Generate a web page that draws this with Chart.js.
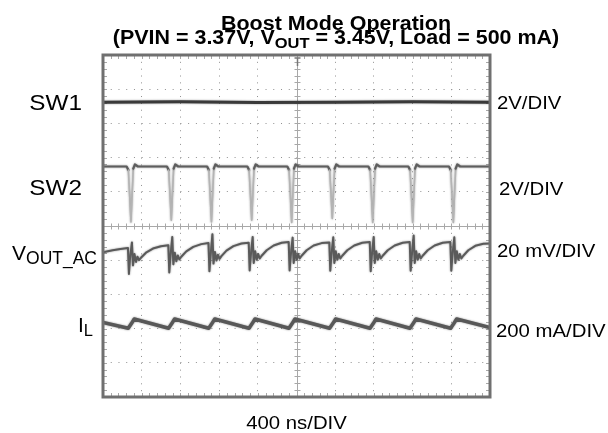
<!DOCTYPE html>
<html>
<head>
<meta charset="utf-8">
<script src="https://cdn.jsdelivr.net/npm/chart.js@4/dist/chart.umd.min.js"></script>
<style>
  html, body { margin: 0; padding: 0; background: #fff; }
  #wrap { position: relative; width: 608px; height: 433px; }
</style>
</head>
<body>
<div id="wrap"><canvas id="c" width="608" height="433"></canvas></div>
<script>
// ---- Data (time in ns, amplitude in screen divisions, 0 = centre line) ----
const timeDiv = 400;            // ns per division
const xDivisions = 10;
const yDivisions = 10;

const titleLine1 = 'Boost Mode Operation';
const titleLine2 = ['(PVIN = 3.37V, V', 'OUT', ' = 3.45V, Load = 500 mA)'];
const leftLabels = ['SW1', 'SW2', ['V', 'OUT_AC'], ['I', 'L']];
const rightLabels = ['2V/DIV', '2V/DIV', '20 mV/DIV', '200 mA/DIV'];
const timeLabel = '400 ns/DIV';

const sw1Points = [[0, 3.62], [800, 3.63], [1600, 3.61], [2400, 3.62], [3200, 3.63], [4000, 3.62]];

const sw2Points = [
  [0, 1.74],
  [244, 1.74], [262, 1.64], [289, 0.12], [313, 1.68], [330, 1.80], [360, 1.74],
  [661, 1.74], [679, 1.64], [706, 0.17], [730, 1.68], [747, 1.80], [777, 1.74],
  [1076, 1.74], [1094, 1.64], [1121, 0.12], [1145, 1.68], [1162, 1.80], [1192, 1.74],
  [1492, 1.74], [1510, 1.64], [1537, 0.17], [1561, 1.68], [1578, 1.80], [1608, 1.74],
  [1905, 1.74], [1923, 1.64], [1950, 0.10], [1974, 1.68], [1991, 1.80], [2021, 1.74],
  [2325, 1.74], [2343, 1.64], [2370, 0.22], [2394, 1.68], [2411, 1.80], [2441, 1.74],
  [2743, 1.74], [2761, 1.64], [2788, 0.10], [2812, 1.68], [2829, 1.80], [2859, 1.74],
  [3156, 1.74], [3174, 1.64], [3201, 0.10], [3225, 1.68], [3242, 1.80], [3272, 1.74],
  [3576, 1.74], [3594, 1.64], [3621, 0.10], [3645, 1.68], [3662, 1.80], [3692, 1.74],
  [4000, 1.74]
];

const voutPoints = [
  [0, -0.77], [100, -0.71], [180, -0.67],
  [258, -0.64], [268, -1.40], [279, -0.95], [299, -0.48], [310, -1.15], [325, -0.82], [341, -1.05], [356, -0.90], [372, -1.00], [392, -0.93], [444, -0.78], [516, -0.66], [599, -0.59],
  [675, -0.56], [685, -1.36], [696, -0.92], [716, -0.32], [727, -1.12], [742, -0.78], [758, -1.03], [773, -0.86], [789, -0.98], [809, -0.90], [861, -0.74], [933, -0.61], [1016, -0.53],
  [1090, -0.50], [1100, -1.32], [1111, -0.90], [1131, -0.24], [1142, -1.10], [1157, -0.76], [1173, -1.01], [1188, -0.84], [1204, -0.96], [1224, -0.88], [1276, -0.72], [1348, -0.59], [1431, -0.51],
  [1506, -0.49], [1516, -1.30], [1527, -0.88], [1547, -0.32], [1558, -1.08], [1573, -0.74], [1589, -0.99], [1604, -0.82], [1620, -0.95], [1640, -0.87], [1692, -0.71], [1764, -0.57], [1847, -0.49],
  [1919, -0.47], [1929, -1.30], [1940, -0.88], [1960, -0.34], [1971, -1.08], [1986, -0.74], [2002, -0.99], [2017, -0.82], [2033, -0.95], [2053, -0.87], [2105, -0.71], [2177, -0.57], [2260, -0.50],
  [2339, -0.48], [2349, -1.31], [2360, -0.88], [2380, -0.33], [2391, -1.08], [2406, -0.74], [2422, -0.99], [2437, -0.82], [2453, -0.95], [2473, -0.87], [2525, -0.71], [2597, -0.57], [2680, -0.49],
  [2757, -0.47], [2767, -1.32], [2778, -0.88], [2798, -0.32], [2809, -1.08], [2824, -0.74], [2840, -0.99], [2855, -0.82], [2871, -0.95], [2891, -0.87], [2943, -0.71], [3015, -0.57], [3098, -0.49],
  [3170, -0.47], [3180, -1.31], [3191, -0.88], [3211, -0.28], [3222, -1.08], [3237, -0.74], [3253, -0.99], [3268, -0.82], [3284, -0.95], [3304, -0.87], [3356, -0.71], [3428, -0.57], [3511, -0.49],
  [3590, -0.47], [3600, -1.31], [3611, -0.88], [3631, -0.33], [3642, -1.08], [3657, -0.74], [3673, -0.99], [3688, -0.82], [3704, -0.95], [3724, -0.87], [3776, -0.71], [3848, -0.58], [3931, -0.52],
  [4000, -0.51]
];

const ilPoints = [
  [0, -2.82],
  [261, -2.99], [292, -2.86], [323, -2.72],
  [678, -2.99], [709, -2.86], [740, -2.72],
  [1093, -2.99], [1124, -2.86], [1155, -2.72],
  [1509, -2.99], [1540, -2.86], [1571, -2.72],
  [1922, -2.99], [1953, -2.86], [1984, -2.72],
  [2342, -2.99], [2373, -2.86], [2404, -2.72],
  [2760, -2.99], [2791, -2.86], [2822, -2.72],
  [3173, -2.99], [3204, -2.86], [3235, -2.72],
  [3593, -2.99], [3624, -2.86], [3655, -2.72],
  [4000, -2.97]
];

// ---- Build chart ----
const toXY = pts => pts.map(p => ({ x: p[0], y: p[1] }));
const FONT = '"Liberation Sans", Arial, Helvetica, sans-serif';

function drawRuns(ctx, runs, x, y, align, sx) {
  let w = 0;
  runs.forEach(r => {
    ctx.font = (r.b ? 'bold ' : '') + r.s + 'px ' + FONT;
    r.w = ctx.measureText(r.t).width; w += r.w;
  });
  const start = align === 'center' ? x - w * sx / 2 : (align === 'right' ? x - w * sx : x);
  ctx.save();
  ctx.translate(start, y);
  ctx.scale(sx, 1);
  ctx.textAlign = 'left';
  ctx.textBaseline = 'alphabetic';
  ctx.fillStyle = '#000';
  let cx = 0;
  runs.forEach(r => {
    ctx.font = (r.b ? 'bold ' : '') + r.s + 'px ' + FONT;
    ctx.fillText(r.t, cx, r.dy || 0);
    cx += r.w;
  });
  ctx.restore();
}

const scopePlugin = {
  id: 'scope',
  beforeDatasetsDraw(chart) {
    const { ctx, chartArea: a, scales: { x, y } } = chart;
    ctx.save();
    ctx.strokeStyle = '#a8a8a8';
    ctx.lineWidth = 1;
    const cx = Math.round(x.getPixelForValue(2000)) + 0.5;
    const cy = Math.round(y.getPixelForValue(0)) + 0.5;
    ctx.beginPath();
    ctx.moveTo(cx, a.top); ctx.lineTo(cx, a.bottom);
    ctx.moveTo(a.left, cy); ctx.lineTo(a.right, cy);
    for (let i = 1; i < yDivisions * 5; i++) {
      const py = Math.round(a.top + i * (a.bottom - a.top) / (yDivisions * 5)) + 0.5;
      ctx.moveTo(cx - 3, py); ctx.lineTo(cx + 3, py);
      ctx.moveTo(a.left, py); ctx.lineTo(a.left + 4, py);
      ctx.moveTo(a.right, py); ctx.lineTo(a.right - 4, py);
    }
    for (let i = 1; i < xDivisions * 5; i++) {
      const px = Math.round(a.left + i * (a.right - a.left) / (xDivisions * 5)) + 0.5;
      ctx.moveTo(px, cy - 3); ctx.lineTo(px, cy + 3);
      ctx.moveTo(px, a.top); ctx.lineTo(px, a.top + 4);
      ctx.moveTo(px, a.bottom); ctx.lineTo(px, a.bottom - 4);
    }
    ctx.stroke();
    ctx.restore();
  },
  beforeDatasetDraw(chart, args) {
    const ctx = chart.ctx;
    ctx.save();
    ctx.shadowColor = 'rgba(0,0,0,0.45)';
    ctx.shadowBlur = 2;
  },
  afterDatasetDraw(chart) {
    chart.ctx.restore();
  },
  afterDatasetsDraw(chart) {
    const { ctx, chartArea: a, scales: { x } } = chart;
    ctx.save();
    ctx.strokeStyle = '#707070';
    ctx.lineWidth = 3;
    ctx.strokeRect(a.left, a.top, a.right - a.left, a.bottom - a.top);
    const cx = Math.round(x.getPixelForValue(2000)) + 0.5;
    ctx.strokeStyle = '#777';
    ctx.lineWidth = 1.5;
    ctx.beginPath();
    ctx.moveTo(cx - 3, a.top + 3); ctx.lineTo(cx + 3, a.top + 3);
    ctx.moveTo(cx, a.top + 3); ctx.lineTo(cx, a.top + 11);
    ctx.stroke();
    ctx.restore();

    drawRuns(ctx, [{ t: titleLine1, s: 19.5, b: true }], 336, 29.5, 'center', 1.1);
    drawRuns(ctx, [
      { t: titleLine2[0], s: 19.5, b: true },
      { t: titleLine2[1], s: 15, b: true, dy: 3.5 },
      { t: titleLine2[2], s: 19.5, b: true }
    ], 336, 44, 'center', 1.1);

    drawRuns(ctx, [{ t: leftLabels[0], s: 21.5 }], 82, 110, 'right', 1.13);
    drawRuns(ctx, [{ t: leftLabels[1], s: 21.5 }], 82, 195, 'right', 1.13);
    drawRuns(ctx, [{ t: leftLabels[2][0], s: 21 }, { t: leftLabels[2][1], s: 17.5, dy: 4 }], 97, 260, 'right', 1.0);
    drawRuns(ctx, [{ t: leftLabels[3][0], s: 21 }, { t: leftLabels[3][1], s: 16.5, dy: 4 }], 93, 332, 'right', 1.0);

    drawRuns(ctx, [{ t: rightLabels[0], s: 19 }], 497, 108.5, 'left', 1.07);
    drawRuns(ctx, [{ t: rightLabels[1], s: 19 }], 499, 195, 'left', 1.07);
    drawRuns(ctx, [{ t: rightLabels[2], s: 19 }], 497, 257, 'left', 1.07);
    drawRuns(ctx, [{ t: rightLabels[3], s: 19 }], 496, 337, 'left', 1.07);

    drawRuns(ctx, [{ t: timeLabel, s: 19 }], 296.5, 429, 'center', 1.07);
  }
};

const lineDs = (label, pts, color, width, extra) => Object.assign({
  label, data: toXY(pts), borderColor: color, borderWidth: width,
  pointRadius: 0, showLine: true, fill: false, tension: 0,
  borderJoinStyle: 'round', borderCapStyle: 'round'
}, extra || {});

new Chart(document.getElementById('c'), {
  type: 'scatter',
  data: {
    datasets: [
      lineDs('SW1', sw1Points, '#3a3a3a', 3),
      lineDs('SW2', sw2Points, '#5e5e5e', 2.2, {
        segment: {
          borderColor: c => (c.p0.parsed.y < 1.5 || c.p1.parsed.y < 1.5) ? '#b4b4b4' : undefined,
          borderWidth: c => (c.p0.parsed.y < 1.5 || c.p1.parsed.y < 1.5) ? 1.5 : undefined
        }
      }),
      lineDs('VOUT_AC', voutPoints, '#5a5a5a', 2),
      lineDs('IL', ilPoints, '#585858', 3.5)
    ]
  },
  options: {
    responsive: false,
    animation: false,
    events: [],
    layout: { padding: { left: 103, right: 118, top: 55, bottom: 36 } },
    plugins: { legend: { display: false }, title: { display: false }, tooltip: { enabled: false } },
    scales: {
      x: {
        type: 'linear', min: 0, max: timeDiv * xDivisions,
        afterFit: s => { s.height = 0; },
        ticks: { display: false, stepSize: timeDiv },
        border: { display: false, dash: [1, 5.84] },
        grid: {
          drawTicks: false,
          color: c => (c.tick.value === 0 || c.tick.value === 4000 || c.tick.value === 2000) ? 'rgba(0,0,0,0)' : '#909090',
          lineWidth: 1
        }
      },
      y: {
        type: 'linear', min: -yDivisions / 2, max: yDivisions / 2,
        afterFit: s => { s.width = 0; },
        ticks: { display: false, stepSize: 1 },
        border: { display: false, dash: [1, 6.74] },
        grid: {
          drawTicks: false,
          color: c => (Math.abs(c.tick.value) === 5 || c.tick.value === 0) ? 'rgba(0,0,0,0)' : '#909090',
          lineWidth: 1
        }
      }
    }
  },
  plugins: [scopePlugin]
});
</script>
</body>
</html>
